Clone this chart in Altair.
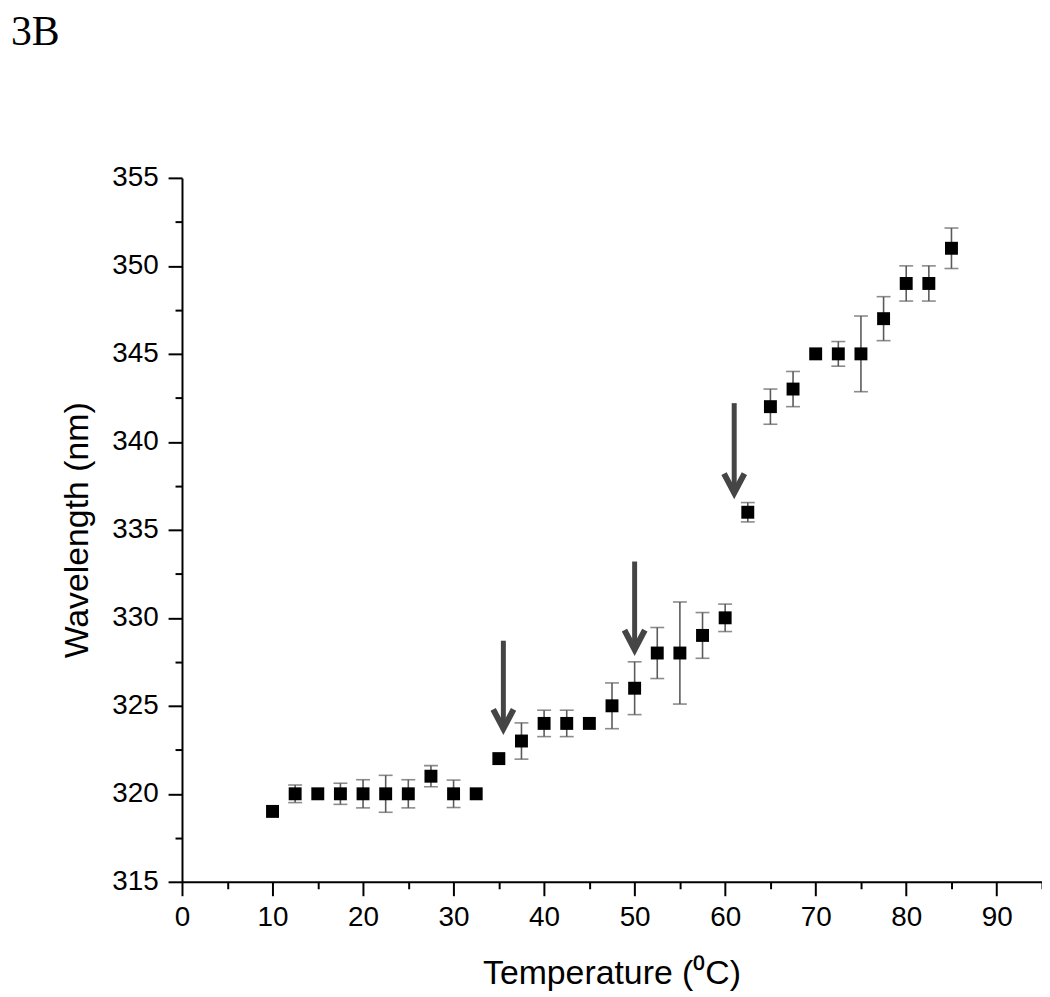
import altair as alt
import pandas as pd

# --- data ---
temperature = [10, 12.5, 15, 17.5, 20, 22.5, 25, 27.5, 30, 32.5, 35, 37.5, 40, 42.5, 45,
               47.5, 50, 52.5, 55, 57.5, 60, 62.5, 65, 67.5, 70, 72.5, 75, 77.5, 80, 82.5, 85]
wavelength = [319, 320, 320, 320, 320, 320, 320, 321, 320, 320, 322, 323, 324, 324, 324,
              325, 326, 328, 328, 329, 330, 336, 342, 343, 345, 345, 345, 347, 349, 349, 351]
error = [0, 0.5, 0, 0.6, 0.8, 1.05, 0.8, 0.6, 0.78, 0, 0, 1.03, 0.75, 0.75, 0,
         1.3, 1.5, 1.45, 2.9, 1.3, 0.78, 0.55, 1.0, 1.0, 0, 0.7, 2.15, 1.25, 1.0, 1.0, 1.15]

arrow_x = [35.5, 50.0, 61.0]
arrow_top = [328.7, 333.2, 342.2]
arrow_tip = [323.7, 328.2, 337.1]

x_ticks = list(range(0, 96, 5))
y_ticks = [315 + 2.5 * i for i in range(17)]

df = pd.DataFrame({"t": temperature, "w": wavelength, "e": error})
df["lo"] = df["w"] - df["e"]
df["hi"] = df["w"] + df["e"]
err_df = df[df["e"] > 0]
arrows = pd.DataFrame({"t": arrow_x, "top": arrow_top, "tip": arrow_tip})

xs = alt.Scale(domain=[0, 95], nice=False, zero=False)
ys = alt.Scale(domain=[315, 355], nice=False, zero=False)

x_axis = alt.Axis(
    title="Temperature (\u2070C)",
    values=x_ticks,
    labelExpr="datum.value % 10 === 0 ? datum.label : ''",
    tickSize={"condition": {"test": "datum.value % 10 === 0", "value": 14}, "value": 7},
    labelPadding=8,
    labelOverlap=False,
    labelFlush=False,
    titleX=432,
    titleY=102,
    titleBaseline="alphabetic",
)
y_axis = alt.Axis(
    title="Wavelength (nm)",
    values=y_ticks,
    labelExpr="datum.value % 5 === 0 ? datum.label : ''",
    tickSize={"condition": {"test": "datum.value % 5 === 0", "value": 14}, "value": 7},
    labelPadding=10,
    labelOverlap=False,
    labelFlush=False,
    titleX=-95,
    titleY=354,
    titleBaseline="alphabetic",
)


def X(field):
    return alt.X(f"{field}:Q", scale=xs, axis=x_axis)


def Y(field):
    return alt.Y(f"{field}:Q", scale=ys, axis=y_axis)


err_color = "#5a5a5a"
bars = alt.Chart(err_df).mark_rule(color=err_color, strokeWidth=1.6).encode(
    x=X("t"), y=Y("lo"), y2="hi"
)
cap_lo = alt.Chart(err_df).mark_tick(orient="horizontal", size=14, thickness=1.6, color=err_color).encode(
    x=X("t"), y=Y("lo")
)
cap_hi = alt.Chart(err_df).mark_tick(orient="horizontal", size=14, thickness=1.6, color=err_color).encode(
    x=X("t"), y=Y("hi")
)
points = alt.Chart(df).mark_point(shape="square", filled=True, size=169, color="black", opacity=1).encode(
    x=X("t"), y=Y("w")
)

arrow_color = "#454545"
shafts = alt.Chart(arrows).mark_rule(color=arrow_color, strokeWidth=5).encode(
    x=X("t"), y=Y("top"), y2="tip"
)
heads = alt.Chart(arrows).mark_point(
    shape="M-1,-1.9L0,0L1,-1.9", size=420, filled=False, strokeWidth=6,
    color=arrow_color, opacity=1, strokeJoin="miter"
).encode(x=X("t"), y=Y("tip"))

chart = alt.layer(bars, cap_lo, cap_hi, points, shafts, heads).properties(
    width=865,
    height=708,
    autosize=alt.AutoSizeParams(type="none"),
    padding={"left": 175, "top": 168, "right": 0, "bottom": 112},
    title=alt.TitleParams(
        "3B", anchor="start", frame="group", orient="top", offset=0,
        baseline="alphabetic", dx=-172, dy=-78,
        font="Liberation Serif", fontSize=42, fontWeight="normal", color="black",
    ),
).configure_view(stroke=None).configure_axis(
    grid=False,
    domainColor="black",
    domainWidth=2,
    tickColor="black",
    tickWidth=2,
    labelFont="Liberation Sans",
    labelFontSize=28,
    labelColor="black",
    titleFont="Liberation Sans",
    titleFontSize=34,
    titleFontWeight="normal",
    titleColor="black",
)

chart.save("out.html", embed_options={"renderer": "svg", "actions": False})
